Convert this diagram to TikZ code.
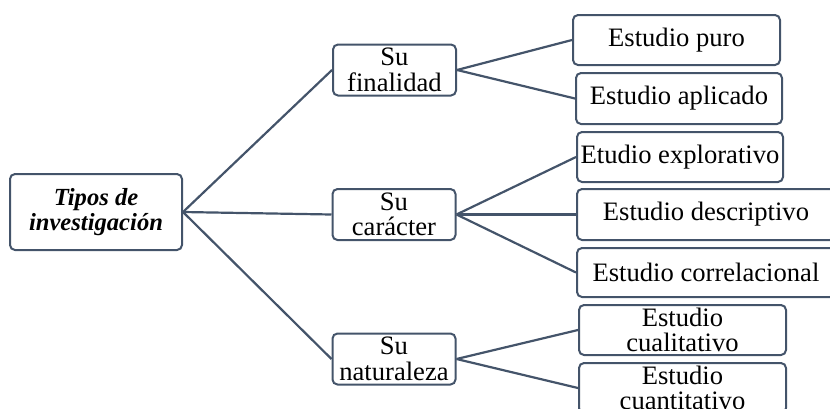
\documentclass[tikz,border=0pt]{standalone}
\usepackage{fontspec}
\setmainfont{Liberation Serif}
\usetikzlibrary{positioning}
\definecolor{lin}{HTML}{44546A}
\begin{document}
\begin{tikzpicture}[x=.5pt,y=-.5pt,
  caja/.style={draw=lin,line width=1pt,rounded corners=2.5pt,inner sep=0pt,align=center,font=\fontsize{13.3}{12.8}\selectfont},
  con/.style={draw=lin,line width=1.1pt}]
  \useasboundingbox (0,0) rectangle (830,408);
  \node[caja,minimum width=86pt,minimum height=38pt,font=\fontsize{12.3}{12.5}\selectfont\bfseries\itshape](tip)at(96,212){Tipos de\\investigación};
  \node[caja,minimum width=61.5pt,minimum height=25.5pt](fin)at(394.5,70){Su\\finalidad};
  \node[caja,minimum width=61.5pt,minimum height=25.5pt](car)at(394,214.5){Su\\carácter};
  \node[caja,minimum width=61.5pt,minimum height=25.5pt](nat)at(394,359){Su\\naturaleza};
  \node[caja,minimum width=103.5pt,minimum height=25pt](pur)at(676.5,40){Estudio puro};
  \node[caja,minimum width=103pt,minimum height=25.5pt](apl)at(679,98.5){Estudio aplicado};
  \node[caja,minimum width=103pt,minimum height=25pt](exp)at(680,157){Etudio explorativo};
  \node[caja,minimum width=129pt,minimum height=25.5pt](des)at(706,214.5){Estudio descriptivo};
  \node[caja,minimum width=129pt,minimum height=24.5pt](cor)at(706,272.5){Estudio correlacional};
  \node[caja,minimum width=103.5pt,minimum height=25pt](cua)at(682.5,330){Estudio\\cualitativo};
  \node[caja,minimum width=103.5pt,minimum height=25pt](cun)at(682.5,388){Estudio\\cuantitativo};
  \draw[con](tip.east)--(fin.west);
  \draw[con](tip.east)--(car.west);
  \draw[con](tip.east)--(nat.west);
  \draw[con](fin.east)--(pur.west);
  \draw[con](fin.east)--(apl.west);
  \draw[con](car.east)--(exp.west);
  \draw[con](car.east)--(des.west);
  \draw[con](car.east)--(cor.west);
  \draw[con](nat.east)--(cua.west);
  \draw[con](nat.east)--(cun.west);
\end{tikzpicture}
\end{document}
